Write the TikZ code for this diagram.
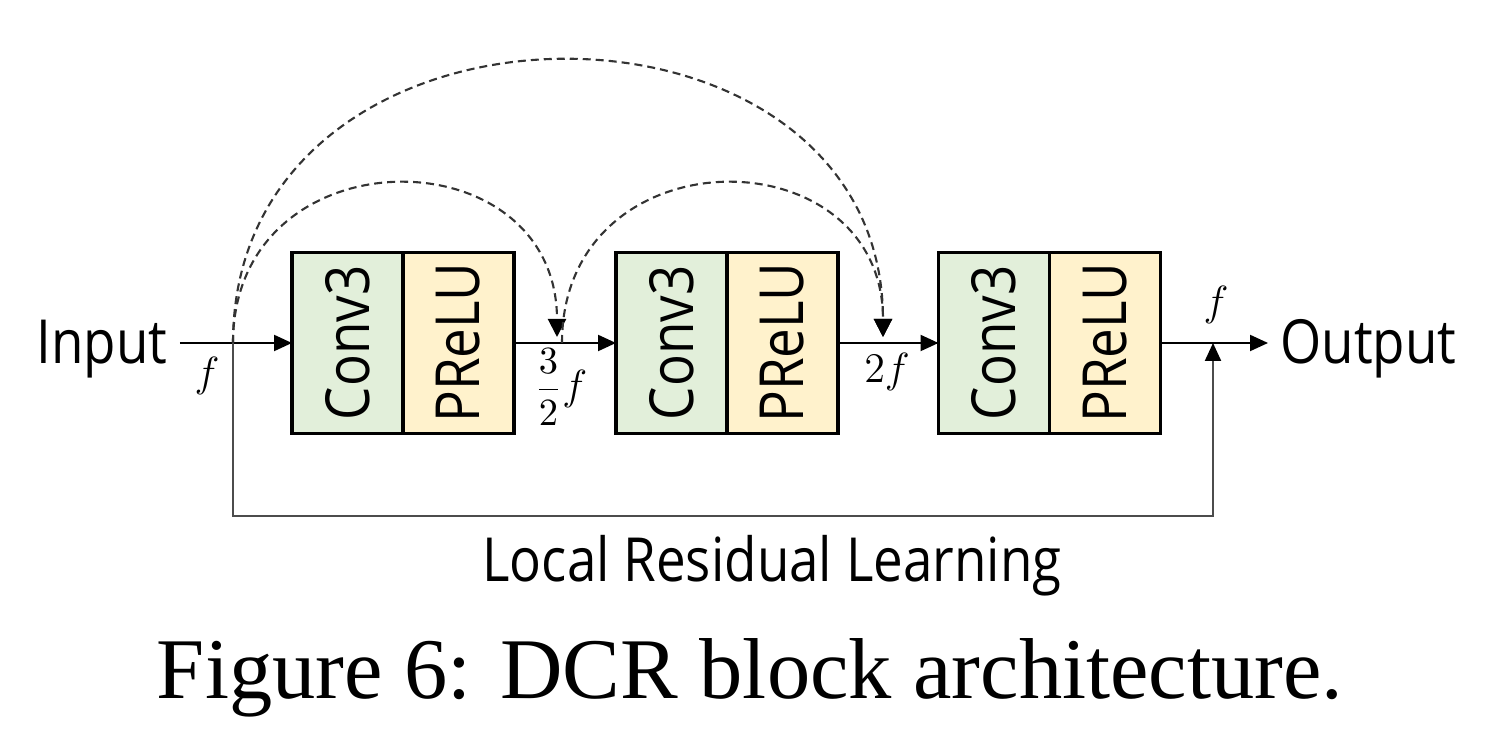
\documentclass[tikz,border=0pt]{standalone}
\usepackage{fontspec}
\setsansfont{Open Sans}[FakeStretch=0.87]
\newfontfamily\capfont{Liberation Serif}
\usetikzlibrary{positioning,arrows.meta}
\definecolor{convgreen}{HTML}{E2EFDA}
\definecolor{reluyellow}{HTML}{FFF2CC}

\begin{document}
\begin{tikzpicture}[
font=\sffamily\fontsize{17.3}{20}\selectfont,
conv/.style={rectangle,draw=black,fill=convgreen,line width=1pt,minimum width=11.1mm,minimum height=18.1mm,inner sep=0pt,outer sep=0pt},
relu/.style={rectangle,draw=black,fill=reluyellow,line width=1pt,minimum width=11.1mm,minimum height=18.1mm,inner sep=0pt,outer sep=0pt},
feat/.style={font=\fontsize{12}{14}\selectfont},
arrow/.style={-{Triangle[length=1.8mm,width=1.6mm]},line width=0.6pt},
skip/.style={-{Triangle[length=1.8mm,width=1.8mm,black]},dash pattern=on 0.8mm off 0.5mm,line width=0.6pt,draw=black!80},
residual/.style={-{Triangle[length=1.8mm,width=1.6mm,black]},line width=0.6pt,draw=black!70}
]
\useasboundingbox (0,0) rectangle (15.07,7.48);

\node[conv] (c1) at (3.475,4.05) {\rotatebox{90}{Conv3}};
\node[relu] (p1) [right=0pt of c1] {\rotatebox{90}{PReLU}};
\node[conv] (c2) at (6.715,4.05) {\rotatebox{90}{Conv3}};
\node[relu] (p2) [right=0pt of c2] {\rotatebox{90}{PReLU}};
\node[conv] (c3) at (9.94,4.05) {\rotatebox{90}{Conv3}};
\node[relu] (p3) [right=0pt of c3] {\rotatebox{90}{PReLU}};

\node (in) at (1.02,3.99) {Input};
\node[anchor=west] (out) at (12.68,3.99) {Output};

\coordinate (split) at (2.33,4.05);
\coordinate (t1) at (5.57,4.11);
\coordinate (s2) at (5.62,4.05);
\coordinate (t2) at (8.83,4.11);
\coordinate (join) at (12.13,4.05);

% main path
\draw[arrow] (in.east |- c1.west) -- (c1.west);
\draw[arrow] (p1.east) -- (c2.west);
\draw[arrow] (p2.east) -- (c3.west);
\draw[arrow] (p3.east) -- (out.west |- p3.east);

% dense skips
\draw[skip] (split) .. controls (2.33,6.16) and (5.57,6.16) .. (t1);
\draw[skip] (s2) .. controls (5.62,6.16) and (8.83,6.16) .. (t2);
\draw[skip] (split) .. controls (2.33,7.8) and (8.83,7.8) .. (t2);

% local residual learning
\draw[residual] (split) -- (split |- 0,2.32) -| (join);
\node[anchor=base] (lrl) at (7.72,1.66) {Local Residual Learning};

\node[feat] (f0) at (2.07,3.72) {$f$};
\node[feat] (f1) at (5.61,3.61) {{\fontsize{10.8}{12}\selectfont$\displaystyle\frac{3}{2}$}$f$};
\node[feat] (f2) at (8.87,3.76) {$2f$};
\node[feat] (f3) at (12.16,4.43) {$f$};

\node[anchor=base,font=\capfont\fontsize{24.6}{30}\selectfont] (cap) at (7.5,0.49) {Figure 6: DCR block architecture.};
\end{tikzpicture}
\end{document}
